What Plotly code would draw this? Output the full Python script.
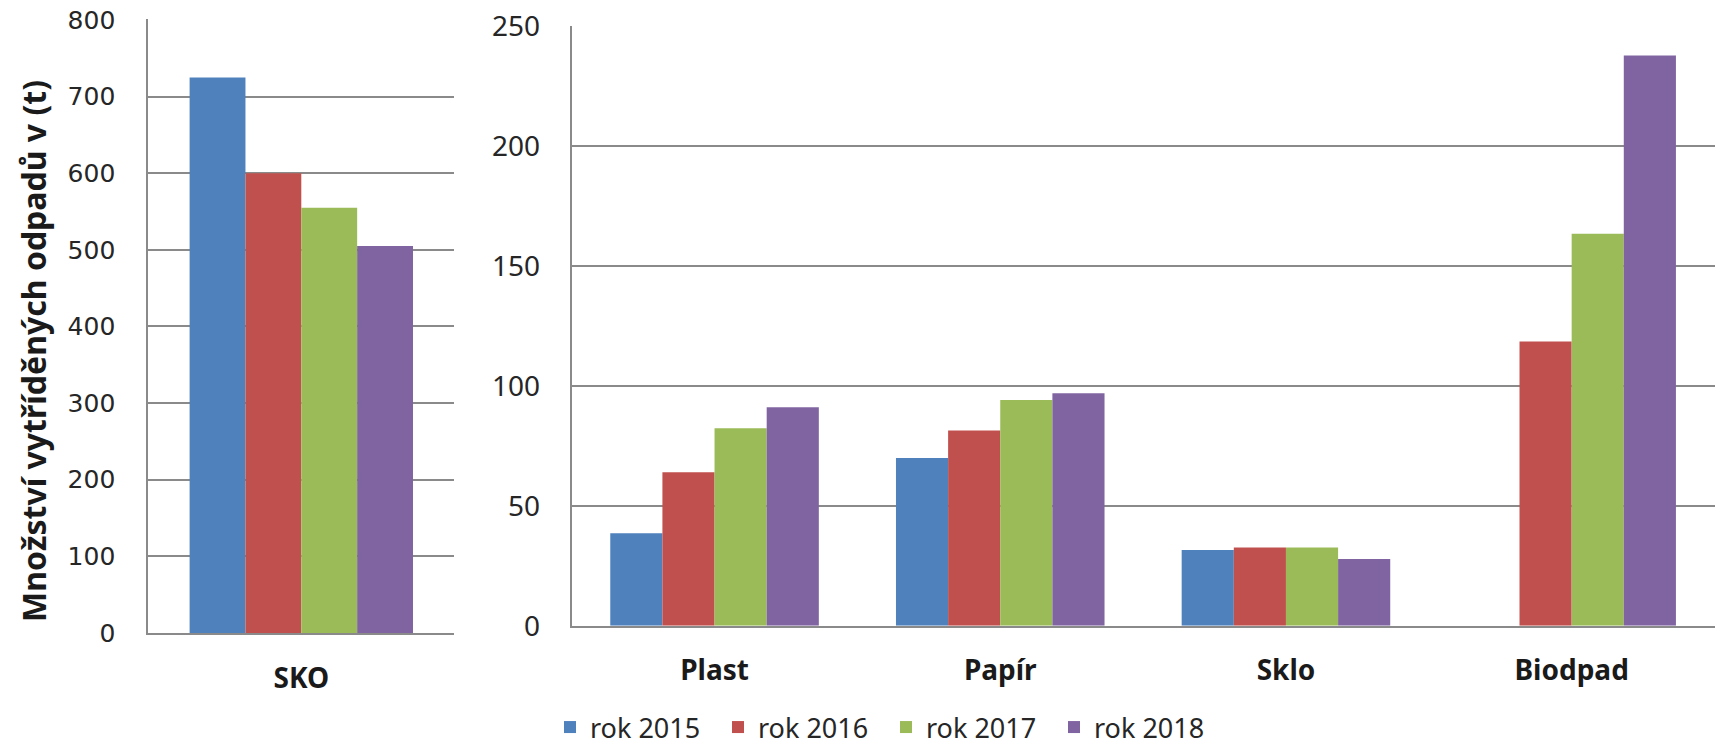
import plotly.graph_objects as go
from plotly.subplots import make_subplots

# data
years = ["rok 2015", "rok 2016", "rok 2017", "rok 2018"]
colors = ["#4F81BD", "#C0504D", "#9BBB59", "#8064A2"]

left_categories = ["SKO"]
sko_values = [725, 600, 555, 505]

right_categories = ["Plast", "Papír", "Sklo", "Biodpad"]
vals_2015 = [38.6, 70, 31.6, None]
vals_2016 = [64, 81.5, 32.6, 118.6]
vals_2017 = [82.4, 94.2, 32.6, 163.6]
vals_2018 = [91.2, 97, 27.8, 238]
right_values = [vals_2015, vals_2016, vals_2017, vals_2018]

left_ticks = [0, 100, 200, 300, 400, 500, 600, 700, 800]
right_ticks = [0, 50, 100, 150, 200, 250]

W, H = 1720, 752
GRID = "#8A8A8A"


def px_x(p):
    return p / W


def px_y(p):
    return 1 - p / H


fig = make_subplots(rows=1, cols=2)

for i, year in enumerate(years):
    fig.add_trace(
        go.Bar(x=left_categories, y=[sko_values[i]], name=year, marker_color=colors[i],
               marker_line_width=0, legendgroup=year, showlegend=True),
        row=1, col=1,
    )
    fig.add_trace(
        go.Bar(x=right_categories, y=right_values[i], name=year, marker_color=colors[i],
               marker_line_width=0, legendgroup=year, showlegend=False),
        row=1, col=2,
    )

fig.update_layout(
    width=W, height=H,
    template="none",
    paper_bgcolor="white", plot_bgcolor="white",
    margin=dict(l=0, r=0, t=0, b=0, autoexpand=False),
    barmode="group", bargap=0.27, bargroupgap=0,
    font=dict(family="Noto Sans", color="#262626"),
    showlegend=True,
    legend=dict(
        orientation="h", x=px_x(550), xanchor="left", y=0, yanchor="bottom",
        font=dict(family="Noto Sans", size=27, color="#262626"),
        entrywidth=123, entrywidthmode="pixels", itemwidth=30,
        bgcolor="rgba(0,0,0,0)", traceorder="normal",
    ),
)

axis_common = dict(
    showgrid=True, gridcolor=GRID, gridwidth=2,
    showline=True, linecolor=GRID, linewidth=2,
    ticks="", zeroline=False, automargin=False, ticklabeloverflow="allow",
)
cat_font = dict(family="Noto Sans", size=28, weight="bold", color="#1a1a1a")

fig.update_xaxes(
    domain=[px_x(148.3), px_x(454.3)], showgrid=False, showline=True, linecolor=GRID, linewidth=2,
    ticks="", automargin=False, ticklabelstandoff=19, tickfont=cat_font,
    row=1, col=1,
)
fig.update_xaxes(
    domain=[px_x(571.7), px_x(1714.5)], showgrid=False, showline=True, linecolor=GRID, linewidth=2,
    ticks="", automargin=False, ticklabelstandoff=19, tickfont=cat_font,
    row=1, col=2,
)
fig.update_yaxes(
    domain=[px_y(633), px_y(19.2)], range=[0, 801], tickvals=left_ticks,
    ticklabelstandoff=26, tickfont=dict(family="DejaVu Sans", size=25, color="#262626"),
    **axis_common, row=1, col=1,
)
fig.update_yaxes(
    domain=[px_y(625.7), px_y(25.7)], range=[0, 250.4], tickvals=right_ticks,
    ticklabelstandoff=24, tickfont=dict(family="Noto Sans", size=28, color="#262626"),
    **axis_common, row=1, col=2,
)

fig.add_annotation(
    text="<b>Množství vytříděných odpadů v (t)</b>", textangle=-90,
    xref="paper", yref="paper", x=px_x(33), y=px_y(351),
    xanchor="center", yanchor="middle",
    showarrow=False, font=dict(family="Noto Sans", size=32, color="#1a1a1a"),
)

# drop the default 8px body margin so the figure fills the window exactly
fig.write_html(
    "out.html",
    config={"displayModeBar": False},
    post_script="document.body.style.margin = '0px';",
)
